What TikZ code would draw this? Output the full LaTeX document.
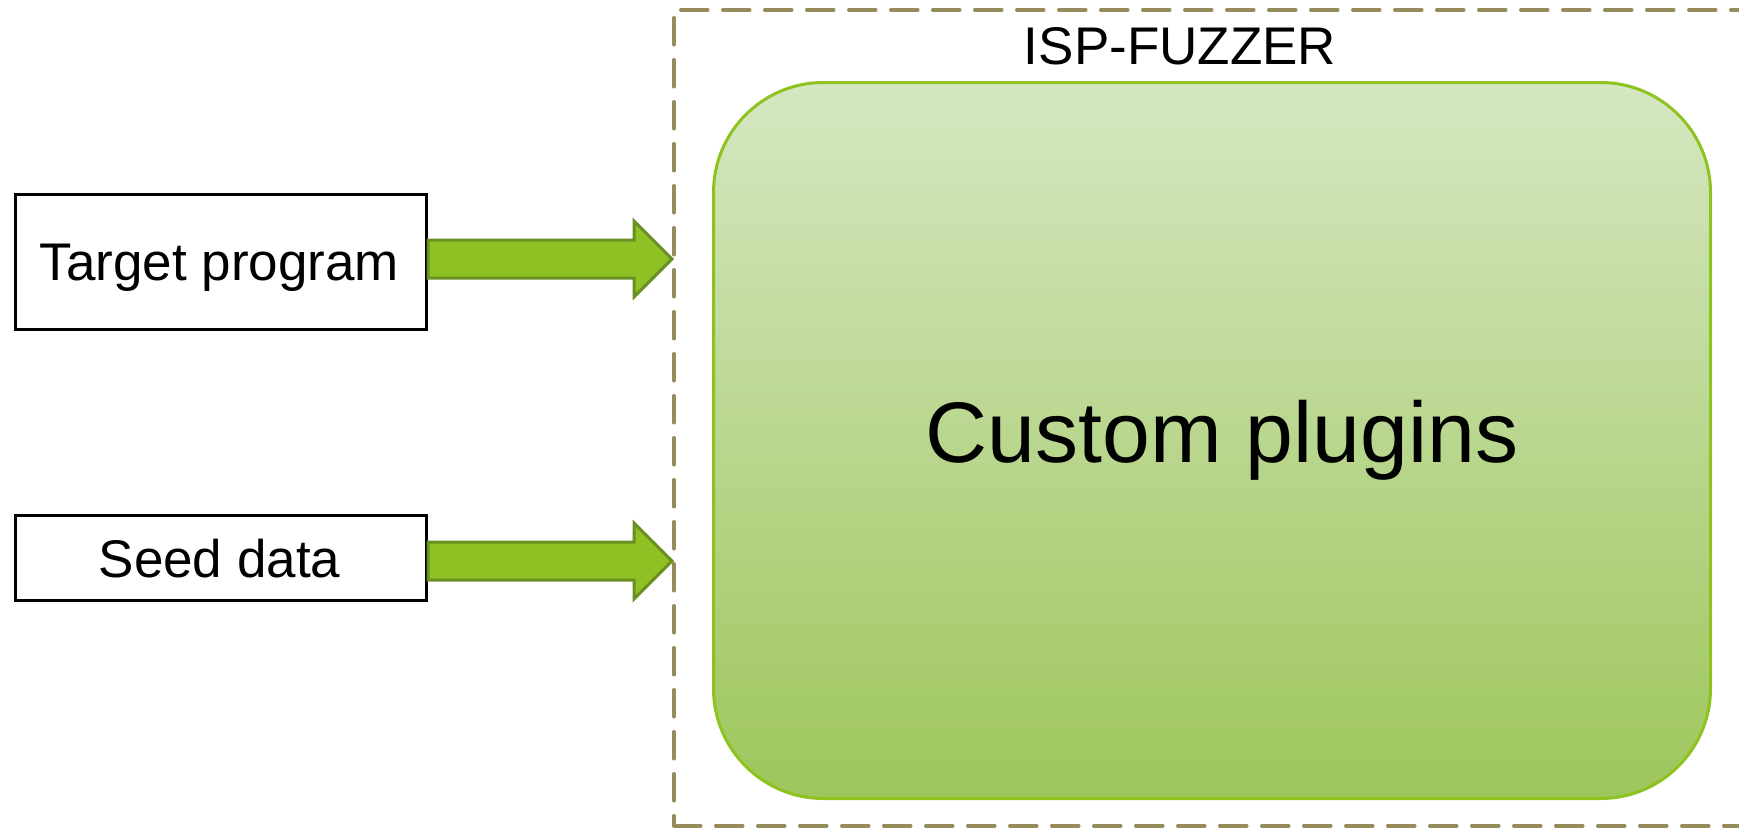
\documentclass[tikz,border=0pt]{standalone}
\usepackage{fontspec}
\setmainfont{Liberation Sans}
\usetikzlibrary{calc}

\definecolor{frameolive}{HTML}{958B5B}
\definecolor{plugtop}{HTML}{D5E7C2}
\definecolor{plugbot}{HTML}{9EC65B}
\definecolor{plugedge}{HTML}{8DC21F}
\definecolor{arrowfill}{HTML}{8FC124}
\definecolor{arrowedge}{HTML}{6A8F22}

\tikzset{
  inbox/.style={draw=black, line width=3pt, fill=white, inner sep=0pt},
  framebox/.style={draw=frameolive, line width=3.5pt, line cap=round,
    dash pattern=on 27pt off 15pt, inner sep=0pt},
  pluginbox/.style={draw=plugedge, line width=3pt, rounded corners=110pt,
    top color=plugtop, bottom color=plugbot, inner sep=0pt},
  fatarrow/.style={draw=arrowedge, fill=arrowfill, line width=3pt, line join=miter},
  lbl/.style={font=\fontsize{53}{60}\selectfont, anchor=base, inner sep=0pt},
}

\begin{document}
\begin{tikzpicture}[x=1pt, y=-1pt]
  \clip (0,0) rectangle (1739,827);
  \fill[white] (0,0) rectangle (1739,827);

  % outer dashed frame (its right side runs past the page edge)
  \node[framebox, minimum width=1100pt, minimum height=816pt, anchor=north west]
    (fuzzer) at (672,8) {};
  \node[lbl] (fuzzlbl) at (1180,64) {ISP-FUZZER};

  % plugin block
  \node[pluginbox, minimum width=997pt, minimum height=716pt, anchor=north west]
    (plug) at (712,81) {};
  \node[font=\fontsize{86}{98}\selectfont, anchor=base, inner sep=0pt]
    (pluglbl) at (1222,462) {Custom plugins};

  % inputs
  \node[inbox, minimum width=411pt, minimum height=135pt, anchor=north west]
    (tp) at (14,193) {};
  \node[lbl] (tplbl) at (219.5,280) {Target program};
  \node[inbox, minimum width=411pt, minimum height=85pt, anchor=north west]
    (sd) at (14,514) {};
  \node[lbl] (sdlbl) at (219.5,577) {Seed data};

  % block arrows from the inputs to the frame
  \foreach \src/\dy in {tp/-3, sd/3} {
    \coordinate (tip) at ($(fuzzer.west |- \src.east)+(0,\dy)$);
    \coordinate (tail) at ($(\src.east)+(0,\dy)$);
    \draw[fatarrow]
      ($(tail)+(0,-19)$) -- ($(tip)+(-38,-19)$) -- ($(tip)+(-38,-38)$) --
      (tip) --
      ($(tip)+(-38,38)$) -- ($(tip)+(-38,19)$) -- ($(tail)+(0,19)$) -- cycle;
  }
\end{tikzpicture}
\end{document}
